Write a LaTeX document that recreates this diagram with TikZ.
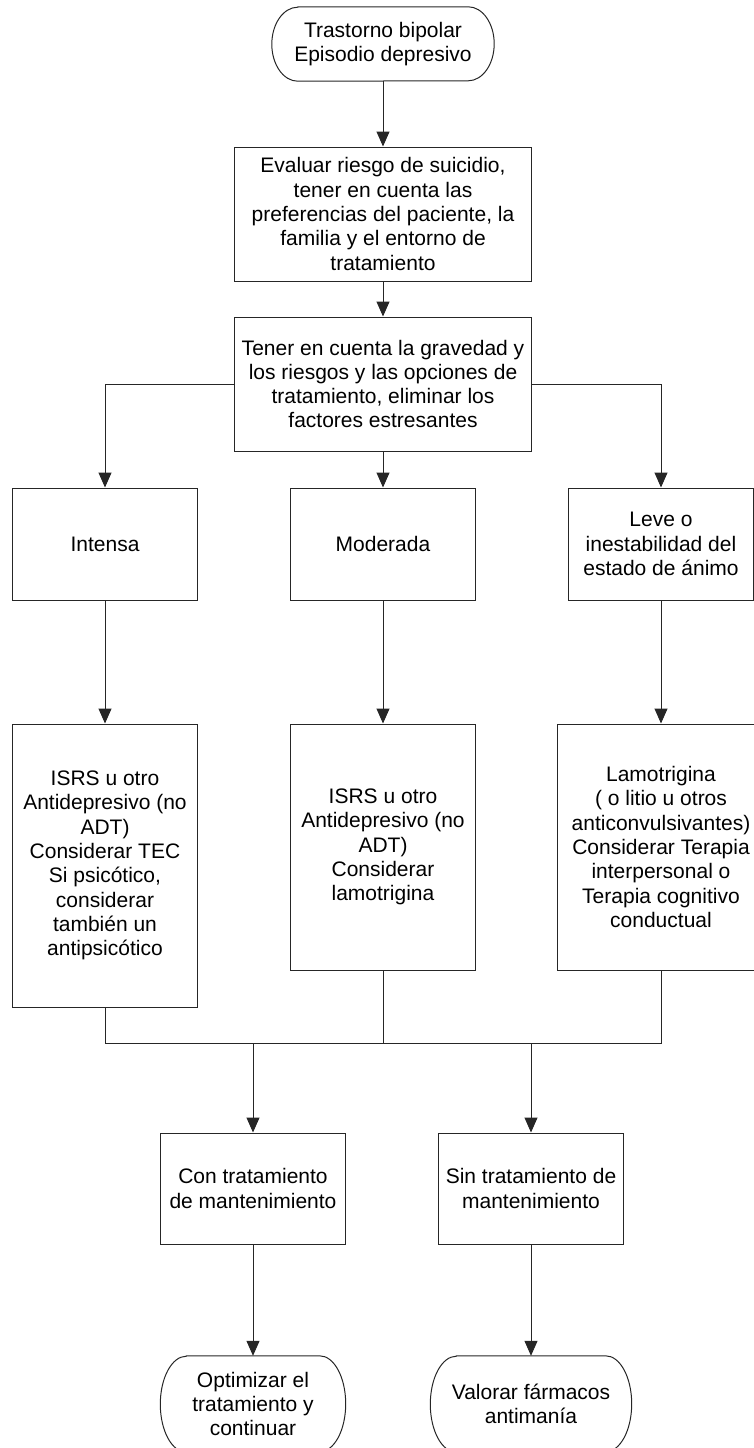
\documentclass[tikz,border=0pt]{standalone}
\usepackage{fontspec}
\setmainfont{Liberation Sans}
\usetikzlibrary{arrows.meta}
\def\termoutline(#1)(#2){\draw[link] ([xshift=26pt]#1.north west) -- ([xshift=-26pt]#1.north east) arc[start angle=90, end angle=-90, x radius=26pt, y radius=#2] -- ([xshift=26pt]#1.south west) arc[start angle=270, end angle=90, x radius=26pt, y radius=#2] -- cycle;}
\tikzset{
	link/.style={line width=1pt, draw=black!85},
	linkarrow/.style={link, -{Triangle[length=15pt, width=13pt]}},
	proc/.style={draw=black!85, line width=1pt, rectangle, align=center, inner sep=0pt, font=\fontsize{21pt}{24.3pt}\selectfont},
	term/.style={rectangle, align=center, inner sep=0pt, font=\fontsize{21pt}{24.3pt}\selectfont}
}

\begin{document}
\begin{tikzpicture}[x=1pt, y=-1pt]
		%%%%% START %%%%%
		\useasboundingbox (0,0) rectangle (754,1448);
		
		\node[term, minimum width=222pt, minimum height=74pt] (inicio) at (383,44) {Trastorno bipolar\\Episodio depresivo};
		\termoutline(inicio)(37pt)
		
		\node[proc, minimum width=297pt, minimum height=134pt] (evaluar) at (383,214) {Evaluar riesgo de suicidio,\\tener en cuenta las\\preferencias del paciente, la\\familia y el entorno de\\tratamiento};
		\node[proc, minimum width=297pt, minimum height=134pt] (gravedad) at (383,384) {Tener en cuenta la gravedad y\\los riesgos y las opciones de\\tratamiento, eliminar los\\factores estresantes};
		
		\node[proc, minimum width=185pt, minimum height=112pt] (intensa) at (105,544) {Intensa};
		\node[proc, minimum width=185pt, minimum height=112pt] (moderada) at (383,544) {Moderada};
		\node[proc, minimum width=185pt, minimum height=112pt] (leve) at (661,544) {Leve o\\inestabilidad del\\estado de ánimo};
		
		\node[proc, minimum width=185pt, minimum height=283pt] (trintensa) at (105,865.5) {ISRS u otro\\Antidepresivo (no\\ADT)\\Considerar TEC\\Si psicótico,\\considerar\\también un\\antipsicótico};
		\node[proc, minimum width=185pt, minimum height=246pt] (trmoderada) at (383,847) {ISRS u otro\\Antidepresivo (no\\ADT)\\Considerar\\lamotrigina};
		\node[proc, minimum width=208pt, minimum height=246pt] (trleve) at (661,847) {Lamotrigina\\( o litio u otros\\anticonvulsivantes)\\Considerar Terapia\\interpersonal o\\Terapia cognitivo\\conductual};
		
		\coordinate (union) at (383,1043);
		
		\node[proc, minimum width=185pt, minimum height=111pt] (con) at (253,1188.5) {Con tratamiento\\de mantenimiento};
		\node[proc, minimum width=185pt, minimum height=111pt] (sin) at (531,1188.5) {Sin tratamiento de\\mantenimiento};
		
		\node[term, minimum width=185pt, minimum height=96pt] (optimizar) at (253,1404) {Optimizar el\\tratamiento y\\continuar};
		\termoutline(optimizar)(48pt)
		\node[term, minimum width=201pt, minimum height=96pt] (valorar) at (531,1404) {Valorar fármacos\\antimanía};
		\termoutline(valorar)(48pt)
		
		\draw[linkarrow] (inicio) -- (evaluar);
		\draw[linkarrow] (evaluar) -- (gravedad);
		\draw[linkarrow] (gravedad.west) -| (intensa.north);
		\draw[linkarrow] (gravedad) -- (moderada);
		\draw[linkarrow] (gravedad.east) -| (leve.north);
		
		\draw[linkarrow] (intensa) -- (trintensa);
		\draw[linkarrow] (moderada) -- (trmoderada);
		\draw[linkarrow] (leve) -- (trleve);
		
		\draw[link] (trintensa.south) |- (union) -| (trleve.south);
		\draw[link] (trmoderada) -- (union);
		\draw[linkarrow] (con.north |- union) -- (con);
		\draw[linkarrow] (sin.north |- union) -- (sin);
		
		\draw[linkarrow] (con) -- (optimizar);
		\draw[linkarrow] (sin) -- (valorar);
		
		%%%%% END %%%%%
	\end{tikzpicture}
\end{document}
